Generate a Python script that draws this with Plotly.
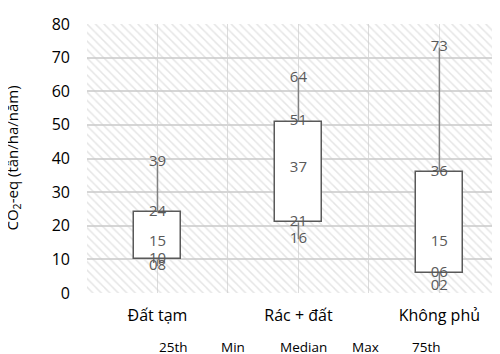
import plotly.graph_objects as go

categories = ["Đất tạm", "Rác + đất", "Không phủ"]
q1_vals = [10, 21, 6]        # 25th
min_vals = [8, 16, 2]        # Min
median_vals = [15, 37, 15]   # Median
max_vals = [39, 64, 73]      # Max
q3_vals = [24, 51, 36]       # 75th
legend_names = ["25th", "Min", "Median", "Max", "75th"]
y_ticks = [0, 10, 20, 30, 40, 50, 60, 70, 80]

FONT = "Open Sans"
xs = list(range(len(categories)))
x_lo, x_hi = -0.5, 2.43
y_lo, y_hi = 0, 80

# page body adds an 8px offset; margins below are in figure pixels
ML, MT, MR, MB = 79, 16, 8, 69
PW = 500 - ML - MR
PH = 354 - MT - MB

fig = go.Figure()

# hatched plot-area background
fig.add_trace(go.Bar(
    x=[(x_lo + x_hi) / 2], y=[y_hi - y_lo], base=[y_lo], width=[x_hi - x_lo],
    marker=dict(color="rgba(0,0,0,0)", line=dict(width=0),
                pattern=dict(shape="\\", fgcolor="#cccccc", bgcolor="rgba(0,0,0,0)",
                             size=6, solidity=0.25, fillmode="overlay")),
    hoverinfo="skip", showlegend=False))

# boxes 25th -> 75th
fig.add_trace(go.Bar(
    x=xs, y=[b - a for a, b in zip(q1_vals, q3_vals)], base=q1_vals, width=0.335,
    marker=dict(color="white", line=dict(color="#595959", width=1.5)),
    showlegend=False))

# whiskers
wx, wy = [], []
for x, lo, a, b, hi in zip(xs, min_vals, q1_vals, q3_vals, max_vals):
    wx += [x, x, None, x, x, None]
    wy += [lo, a, None, b, hi, None]
fig.add_trace(go.Scatter(x=wx, y=wy, mode="lines",
                         line=dict(color="#808080", width=1.5), showlegend=False,
                         hoverinfo="skip"))

# data labels
for series in [q1_vals, min_vals, median_vals, max_vals, q3_vals]:
    fig.add_trace(go.Scatter(
        x=xs, y=series, mode="text", text=[f"{v:02d}" for v in series],
        textposition="middle center",
        textfont=dict(family=FONT, size=15, color="#595959"), showlegend=False))

# legend text (series names only, no symbols); left edges in screen pixels
legend_left_px = [157, 219, 278, 350, 410]
for name, px in zip(legend_names, legend_left_px):
    fig.add_annotation(text=name, xref="paper", yref="paper",
                       x=(px - 8 - ML) / PW, y=(PH + MT - (347 - 8)) / PH,
                       xanchor="left", yanchor="middle", showarrow=False,
                       font=dict(family=FONT, size=13.5, color="#000000"))

# y-axis title
fig.add_annotation(text="CO<sub>2</sub>-eq (tấn/ha/năm)", xref="paper", yref="paper",
                   x=(12 - 8 - ML) / PW, y=0.5, textangle=-90,
                   xanchor="center", yanchor="middle", showarrow=False,
                   font=dict(family=FONT, size=15, color="#000000"))

grid_vals = [i * 0.5 - 0.5 for i in range(2 * len(categories) + 1)]
grid_text = [categories[int(v)] if float(v).is_integer() else "" for v in grid_vals]

fig.update_layout(
    width=500, height=354,
    margin=dict(l=ML, r=MR, t=MT, b=MB, autoexpand=False),
    paper_bgcolor="white", plot_bgcolor="white",
    barmode="overlay", bargap=0,
    font=dict(family=FONT, size=14, color="#000000"),
    xaxis=dict(range=[x_lo, x_hi], tickmode="array", tickvals=grid_vals,
               ticktext=grid_text, showgrid=True, gridcolor="#dcdcdc", gridwidth=1,
               zeroline=False, showline=False, ticks="", ticklabelstandoff=11,
               automargin=False,
               tickfont=dict(family=FONT, size=16, color="#000000")),
    yaxis=dict(range=[y_lo, y_hi], tickmode="array", tickvals=y_ticks,
               showgrid=True, gridcolor="#d6d6d6", gridwidth=2,
               zeroline=False, showline=False, ticks="", ticklabelstandoff=16,
               automargin=False,
               tickfont=dict(family=FONT, size=16, color="#000000")),
)

fig.write_html("out.html")
